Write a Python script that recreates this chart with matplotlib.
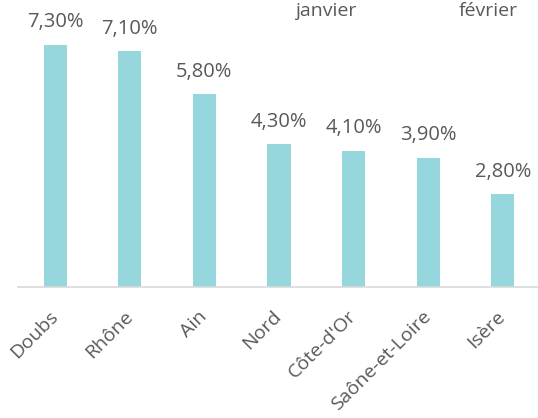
import matplotlib
matplotlib.use('Agg')
import matplotlib.pyplot as plt

# data
departements = ['Doubs', 'Rhône', 'Ain', 'Nord', "Côte-d'Or", 'Saône-et-Loire', 'Isère']
taux = [7.3, 7.1, 5.8, 4.3, 4.1, 3.9, 2.8]
mois = ['janvier', 'février']

plt.rcParams['font.family'] = ['Open Sans', 'DejaVu Sans']
TEXT = '#595959'
BAR = '#95D7DD'

W, H = 538, 418
fig = plt.figure(figsize=(W / 100, H / 100), dpi=100)
ax = fig.add_axes([18 / W, (H - 287) / H, 522 / W, 265.6 / H])

x = range(len(departements))
ax.bar(x, taux, width=0.31, color=BAR, zorder=2)
ax.set_xlim(-0.5, len(departements) - 0.5)
ax.set_ylim(0, 8)

for xi, v in zip(x, taux):
    ax.annotate(f'{v:.2f}%'.replace('.', ','), (xi, v), xytext=(0, 9),
                textcoords='offset points', ha='center', va='bottom',
                fontsize=14.5, color=TEXT)

ax.set_xticks(list(x))
ax.set_xticklabels(departements, rotation=45, ha='right', va='center',
                   rotation_mode='anchor', fontsize=14, color=TEXT)
ax.tick_params(axis='x', length=0, pad=19)
ax.set_yticks([])
for s in ['top', 'right', 'left']:
    ax.spines[s].set_visible(False)
ax.spines['bottom'].set_color('#D9D9D9')
ax.spines['bottom'].set_linewidth(1.2)

# leftover legend labels at the top
fig.text(326 / W, 1 - 11 / H, mois[0], ha='center', va='center', fontsize=14, color=TEXT)
fig.text(488 / W, 1 - 11 / H, mois[1], ha='center', va='center', fontsize=14, color=TEXT)

fig.savefig('out.png', dpi=100)
